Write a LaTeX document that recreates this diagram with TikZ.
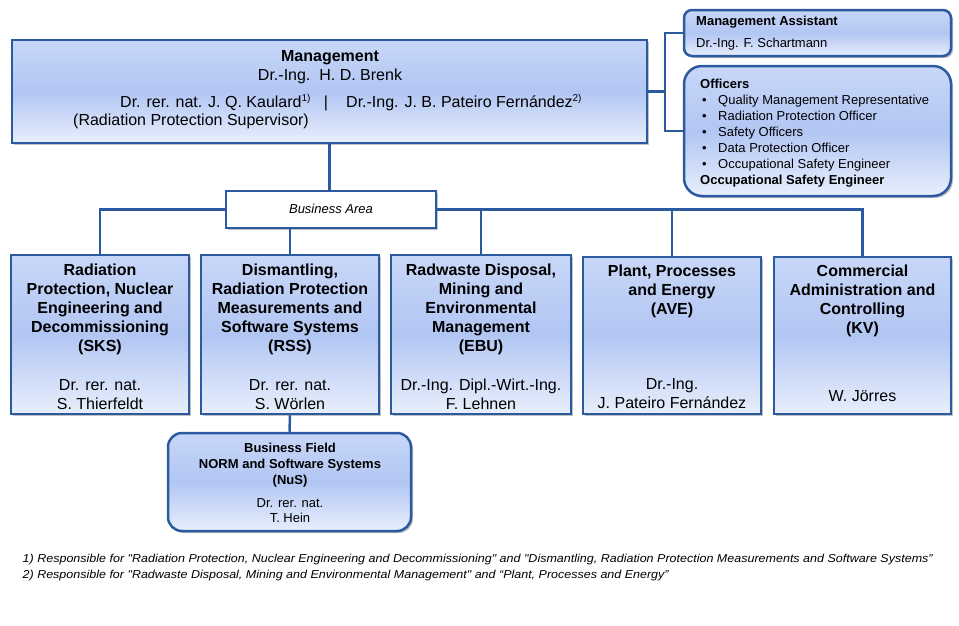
\documentclass[tikz,border=0pt]{standalone}
\usepackage{fontspec}
\usepackage{graphicx}
\setmainfont{Liberation Sans}
\newfontfamily\footfont{Liberation Sans}[Ligatures=TeXOff]
\usetikzlibrary{shadows}
\pgfdeclarelayer{bg}
\pgfsetlayers{bg,main}
\definecolor{bord}{RGB}{44,90,160}
\definecolor{gtop}{RGB}{200,215,248}
\definecolor{gmid}{RGB}{178,198,243}
\definecolor{gbot}{RGB}{232,239,252}
\newcommand{\mysup}[1]{\raisebox{5.5pt}{\fontsize{10}{10}\selectfont #1}}
\tikzset{
  shad/.style={drop shadow={shadow xshift=2pt,shadow yshift=-2pt,opacity=0.35,fill=black!70}},
  boxbase/.style={draw=bord,line width=2.5pt,shad,top color=gtop,bottom color=gbot,middle color=gmid,inner sep=0pt},
  unitbox/.style={boxbase,rectangle,minimum width=178pt,minimum height=159pt},
  rbox/.style={boxbase,rounded corners=#1},
  conn/.style={draw=bord,line width=2.5pt},
  big/.style={font=\fontsize{16}{19}\selectfont,inner sep=0pt},
  bigb/.style={font=\fontsize{16}{19}\selectfont\bfseries,inner sep=0pt},
  small/.style={font=\fontsize{13}{16}\selectfont,inner sep=0pt},
  smallb/.style={font=\fontsize{13}{16}\selectfont\bfseries,inner sep=0pt},
  foot/.style={font=\footfont\fontsize{11.5}{14}\selectfont\itshape,inner sep=0pt,anchor=base west},
}
\begin{document}
\begin{tikzpicture}[x=1pt,y=-1pt]
\useasboundingbox (0,0) rectangle (959,625);
% boxes
\node[boxbase,minimum width=635pt,minimum height=103pt] (mgmt) at (329.5,91.5) {};
\node[rbox=8pt,minimum width=267pt,minimum height=46pt] (asst) at (817.5,33) {};
\node[rbox=18pt,minimum width=267pt,minimum height=130pt] (off) at (817.5,131) {};
\node[draw=bord,line width=2.5pt,fill=white,shad,minimum width=210pt,minimum height=37pt,inner sep=0pt] (ba) at (331,209.5) {};
\node[unitbox] (sks) at (100,334.5) {};
\node[unitbox] (rss) at (290,334.5) {};
\node[unitbox,minimum width=180pt] (ebu) at (481,334.5) {};
\node[unitbox,minimum height=157pt] (ave) at (672,335.5) {};
\node[unitbox,minimum width=177pt,minimum height=157pt] (kv) at (862.5,335.5) {};
\node[rbox=14pt,minimum width=243pt,minimum height=98pt] (nus) at (289.5,482) {};
\coordinate (j) at (665,90);
% connectors
\begin{pgfonlayer}{bg}
\draw[conn] (mgmt.east) -- (mgmt.east -| j);
\draw[conn] (asst.west) -- (asst.west -| j) -- (off.west -| j) -- (off.west);
\draw[conn] (mgmt.south) -- (mgmt.south |- ba.north);
\draw[conn] (ba.west) -| (sks.north);
\draw[conn] (rss.north |- ba.south) -- (rss.north);
\draw[conn] (ba.east) -| (kv.north);
\draw[conn] (ebu.north |- ba.east) -- (ebu.north);
\draw[conn] (ave.north |- ba.east) -- (ave.north);
\draw[conn] (rss.south) -- (nus.north);
\end{pgfonlayer}
% management text
\node[bigb,anchor=base] (mt1) at (330,61) {Management};
\node[big,anchor=base] (mt2) at (330,80) {Dr.-Ing.\ \ H. D. Brenk};
\node[big,anchor=base west] (mt3) at (120,107) {Dr. rer. nat. J. Q. Kaulard\mysup{1)}};
\node[big,anchor=base] (mt4) at (326,107) {|};
\node[big,anchor=base west] (mt5) at (346,107) {Dr.-Ing. J. B. Pateiro Fernández\mysup{2)}};
\node[big,anchor=base west] (mt6) at (73,125) {(Radiation Protection Supervisor)};
% assistant
\node[smallb,anchor=base west] (at1) at (696,25.7) {Management Assistant};
\node[small,anchor=base west] (at2) at (696,47.7) {Dr.-Ing. F. Schartmann};
% officers
\node[small,anchor=north west,align=left] (ot) at (700,78.5) {\textbf{Officers}\\
\hspace*{2pt}\makebox[16pt][l]{•}Quality Management Representative\\
\hspace*{2pt}\makebox[16pt][l]{•}Radiation Protection Officer\\
\hspace*{2pt}\makebox[16pt][l]{•}Safety Officers\\
\hspace*{2pt}\makebox[16pt][l]{•}Data Protection Officer\\
\hspace*{2pt}\makebox[16pt][l]{•}Occupational Safety Engineer\\
\textbf{Occupational Safety Engineer}};
% business area
\node[small,font=\fontsize{13}{16}\selectfont\itshape,anchor=base] (bat) at (331,213.7) {Business Area};
% unit texts
\node[bigb,anchor=north,align=center] (sksT) at (100,264) {Radiation\\Protection, Nuclear\\Engineering and\\Decommissioning\\(SKS)};
\node[big,anchor=north,align=center] (sksN) at (100,379) {Dr. rer. nat.\\S. Thierfeldt};
\node[bigb,anchor=north,align=center] (rssT) at (290,264) {Dismantling,\\Radiation Protection\\Measurements and\\Software Systems\\(RSS)};
\node[big,anchor=north,align=center] (rssN) at (290,379) {Dr. rer. nat.\\S. Wörlen};
\node[bigb,anchor=north,align=center] (ebuT) at (481,264) {Radwaste Disposal,\\Mining and\\Environmental\\Management\\(EBU)};
\node[big,anchor=north,align=center] (ebuN) at (481,379) {Dr.-Ing. Dipl.-Wirt.-Ing.\\F. Lehnen};
\node[bigb,anchor=north,align=center] (aveT) at (672,265) {Plant, Processes\\and Energy\\(AVE)};
\node[big,anchor=north,align=center] (aveN) at (672,378) {Dr.-Ing.\\J. Pateiro Fernández};
\node[bigb,anchor=north,align=center] (kvT) at (862.5,265) {Commercial\\Administration and\\Controlling\\(KV)};
\node[big,anchor=north,align=center] (kvN) at (862.5,390) {W. Jörres};
% NuS
\node[smallb,anchor=north,align=center] (nusT) at (290,443.3) {Business Field\\NORM and Software Systems\\(NuS)};
\node[small,anchor=north,align=center,font=\fontsize{13}{15}\selectfont] (nusN) at (290,498.3) {Dr. rer. nat.\\T. Hein};
% footnotes
\node[foot] (f1) at (22.5,562) {\resizebox{910pt}{\height}{1) Responsible for "Radiation Protection, Nuclear Engineering and Decommissioning" and "Dismantling, Radiation Protection Measurements and Software Systems”}};
\node[foot] (f2) at (22.5,578) {\resizebox{646pt}{\height}{2) Responsible for "Radwaste Disposal, Mining and Environmental Management" and “Plant, Processes and Energy”}};
\end{tikzpicture}
\end{document}
